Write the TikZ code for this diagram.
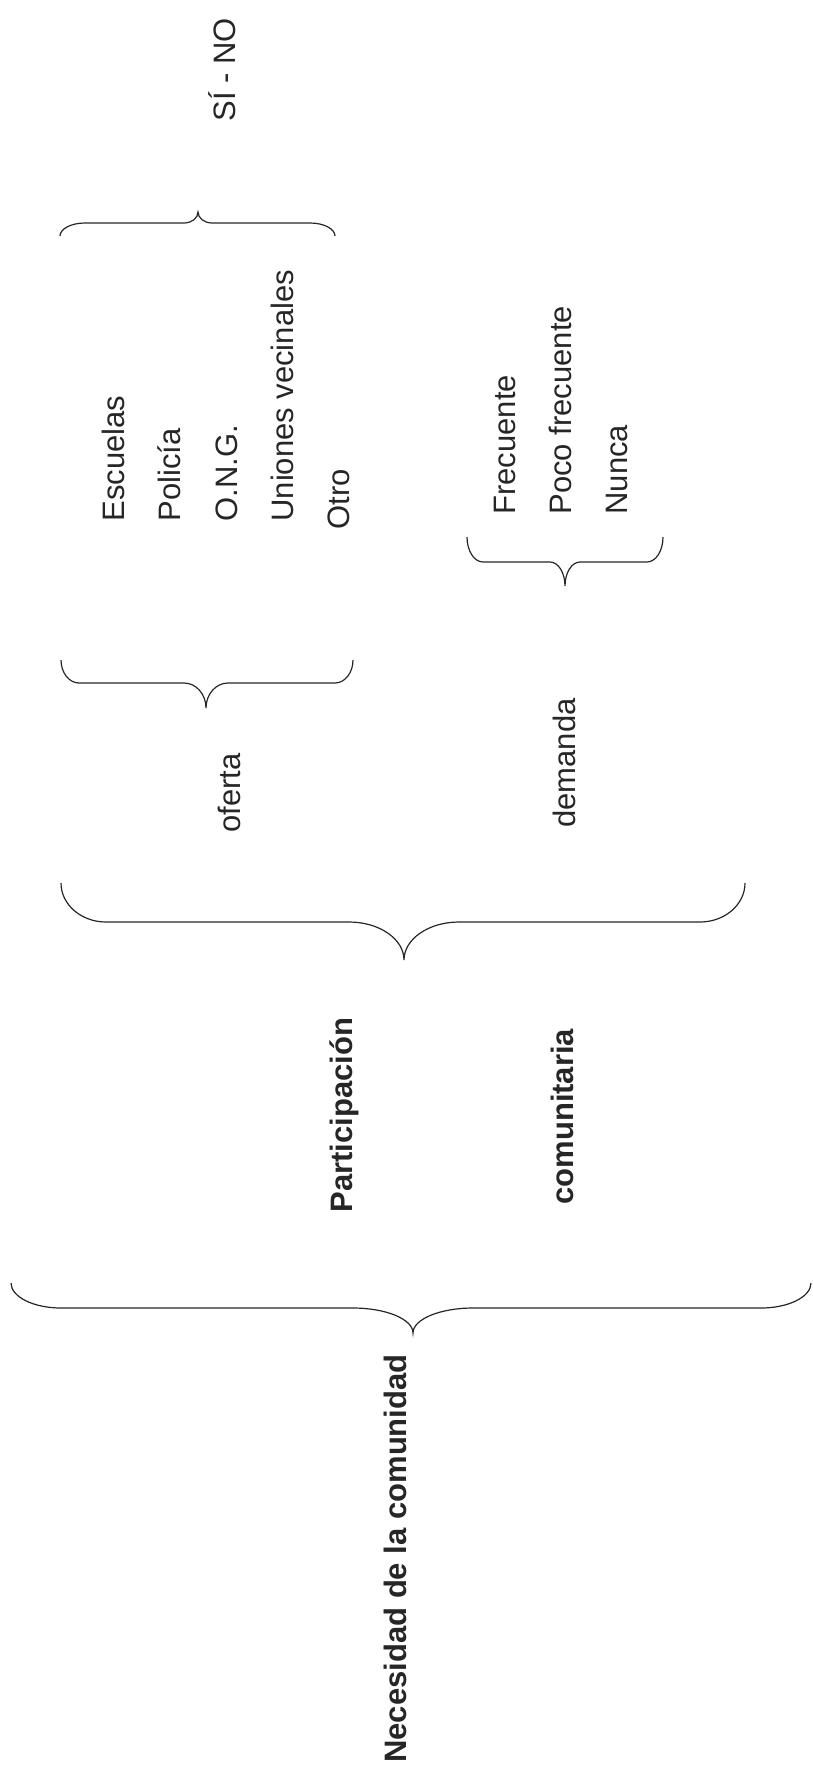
\documentclass[tikz,border=0pt]{standalone}
\usepackage{fontspec}
\setmainfont{Liberation Sans}
\newcommand{\llave}[8]{%
  \draw [black!85, line width=0.6pt] (#1,#4)
    .. controls (#1,{#4+0.552*(#5-#4)}) and ({#1+0.448*#7},#5) .. ({#1+#7},#5)
    -- ({#3-#8},#5)
    .. controls ({#3-0.448*#8},#5) and (#3,{#5+0.448*(#6-#5)}) .. (#3,#6)
    .. controls (#3,{#5+0.448*(#6-#5)}) and ({#3+0.448*#8},#5) .. ({#3+#8},#5)
    -- ({#2-#7},#5)
    .. controls ({#2-0.448*#7},#5) and (#2,{#4+0.552*(#5-#4)}) .. (#2,#4);}
\tikzset{
  etiq/.style={rotate=90, anchor=base west, inner sep=0pt, text=black!85,
    font=\fontsize{15.5}{18}\selectfont},
  etiqb/.style={etiq, font=\fontsize{15.5}{18}\selectfont\bfseries}
}
\begin{document}
\begin{tikzpicture}[x=0.5pt, y=-0.5pt]
    \useasboundingbox (0,0) rectangle (813,1771);
    \node [etiq] (sino) at (235,122) {SÍ - NO};
    \llave{60}{335}{198}{236}{223}{212}{25}{14}
    \node [etiq] (escuelas) at (124,522) {Escuelas};
    \node [etiq] (policia) at (180,522) {Policía};
    \node [etiq] (ong) at (237,522) {O.N.G.};
    \node [etiq] (uniones) at (293,522) {Uniones vecinales};
    \node [etiq] (otro) at (349,530) {Otro};
    \node [etiq] (frecuente) at (515,515) {Frecuente};
    \node [etiq] (poco) at (571,515) {Poco frecuente};
    \node [etiq] (nunca) at (627,515) {Nunca};
    \llave{467}{663}{565}{537}{562}{586}{16}{15}
    \llave{61}{353}{206}{660}{683}{708}{18}{22}
    \node [etiq] (oferta) at (240,833) {oferta};
    \node [etiq] (demanda) at (575,828) {demanda};
    \llave{61}{745}{404}{883}{922}{960}{45}{55}
    \node [etiqb] (particip) at (352,1213) {Participación};
    \node [etiqb] (comunit) at (573,1205) {comunitaria};
    \llave{11}{811}{413}{1283}{1308}{1333}{50}{60}
    \node [etiqb] (necesidad) at (406,1763) {Necesidad de la comunidad};
\end{tikzpicture}
\end{document}
